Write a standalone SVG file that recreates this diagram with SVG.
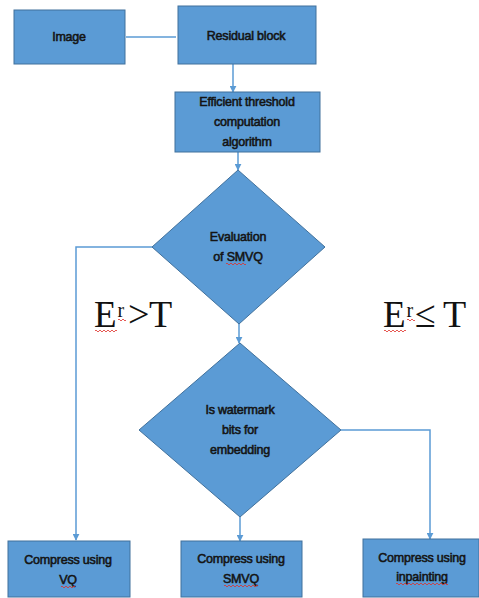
<svg xmlns="http://www.w3.org/2000/svg" width="479" height="598" viewBox="0 0 479 598">
<style>
.box{fill:#5B9BD5;stroke:#41719C;stroke-width:1}
.lbl{font-family:"Liberation Sans",Arial,sans-serif;font-size:12.5px;fill:#141414;stroke:#141414;stroke-width:0.55;text-anchor:middle;letter-spacing:-0.2px}
.conn{fill:none;stroke:#5B9BD5;stroke-width:1.5}
.math{font-family:"Liberation Serif","Times New Roman",serif;fill:#111}
.sq{fill:none;stroke:#e0302a;stroke-width:0.8}
</style>
<defs>
<marker id="ah" viewBox="0 0 10 10" refX="9" refY="5" markerWidth="7" markerHeight="7" markerUnits="userSpaceOnUse" orient="auto">
<path d="M0,0 L10,5 L0,10 Z" fill="#5B9BD5"/>
</marker>
</defs>
<rect width="479" height="598" fill="#ffffff"/>
<g id="connectors">
<path class="conn" d="M126,37 H176"/>
<path class="conn" d="M233,64 V92" marker-end="url(#ah)"/>
<path class="conn" d="M238,152 V170" marker-end="url(#ah)"/>
<path class="conn" d="M152,247 H76 V540" marker-end="url(#ah)"/>
<path class="conn" d="M239,324 V343" marker-end="url(#ah)"/>
<path class="conn" d="M341,430 H430 V539" marker-end="url(#ah)"/>
<path class="conn" d="M240,517 V541" marker-end="url(#ah)"/>
</g>
<g id="image">
<rect class="box" x="14" y="10" width="111" height="54"/>
<text class="lbl" x="69" y="41">Image</text>
</g>
<g id="residual">
<rect class="box" x="178" y="6" width="138" height="58"/>
<text class="lbl" x="246" y="40">Residual block</text>
</g>
<g id="threshold">
<rect class="box" x="175" y="92" width="145" height="60"/>
<text class="lbl" x="247" y="106">Efficient threshold</text>
<text class="lbl" x="247" y="126">computation</text>
<text class="lbl" x="247" y="146">algorithm</text>
</g>
<g id="evaluation">
<polygon class="box" points="238,170 325,247 239,324 152,247"/>
<text class="lbl" x="238" y="241">Evaluation</text>
<text class="lbl" x="238" y="261">of SMVQ</text>
<path class="sq" d="M226,264 q1,-2 2,0 t2,0 t2,0 t2,0 t2,0 t2,0 t2,0 t2,0 t2,0 t2,0"/>
</g>
<g id="watermark">
<polygon class="box" points="240,343 341,430 240,517 139,430"/>
<text class="lbl" x="240" y="414">Is watermark</text>
<text class="lbl" x="240" y="434">bits for</text>
<text class="lbl" x="240" y="454">embedding</text>
</g>
<g id="vq">
<rect class="box" x="8" y="541" width="122" height="56"/>
<text class="lbl" x="68" y="564">Compress using</text>
<text class="lbl" x="68" y="584">VQ</text>
<path class="sq" d="M61,587 q1,-2 2,0 t2,0 t2,0 t2,0 t2,0 t2,0 t2,0"/>
</g>
<g id="smvq">
<rect class="box" x="181" y="541" width="121" height="56"/>
<text class="lbl" x="241" y="563">Compress using</text>
<text class="lbl" x="241" y="583">SMVQ</text>
<path class="sq" d="M224,586 q1,-2 2,0 t2,0 t2,0 t2,0 t2,0 t2,0 t2,0 t2,0 t2,0 t2,0 t2,0 t2,0 t2,0 t2,0 t2,0 t2,0 t2,0"/>
</g>
<g id="inpainting">
<rect class="box" x="363" y="539" width="116" height="58"/>
<text class="lbl" x="422" y="562">Compress using</text>
<text class="lbl" x="422" y="581">inpainting</text>
<path class="sq" d="M396,584 q1,-2 2,0 t2,0 t2,0 t2,0 t2,0 t2,0 t2,0 t2,0 t2,0 t2,0 t2,0 t2,0 t2,0 t2,0 t2,0 t2,0 t2,0 t2,0 t2,0 t2,0 t2,0 t2,0 t2,0 t2,0 t2,0 t2,0"/>
</g>
<g id="cond-left">
<text class="math" x="94" y="327" font-size="37">E</text>
<text class="math" x="117.5" y="317" font-size="20" fill="#1f3f77">r</text>
<text class="math" x="128" y="327" font-size="38" fill="#8a8a8a">&gt;</text>
<text class="math" x="149" y="327" font-size="38">T</text>
<path class="sq" d="M95,331 q1,-2 2,0 t2,0 t2,0 t2,0 t2,0 t2,0 t2,0 t2,0 t2,0 t2,0 t2,0"/>
<path class="sq" d="M118,320 q1,-2 2,0 t2,0 t2,0 t2,0"/>
</g>
<g id="cond-right">
<text class="math" x="383" y="327" font-size="37">E</text>
<text class="math" x="406.5" y="317" font-size="20" fill="#1f3f77">r</text>
<text class="math" x="415" y="327" font-size="38" fill="#8a8a8a">≤</text>
<text class="math" x="443" y="327" font-size="38">T</text>
<path class="sq" d="M384,331 q1,-2 2,0 t2,0 t2,0 t2,0 t2,0 t2,0 t2,0 t2,0 t2,0 t2,0 t2,0"/>
<path class="sq" d="M407,320 q1,-2 2,0 t2,0 t2,0 t2,0"/>
</g>
</svg>
